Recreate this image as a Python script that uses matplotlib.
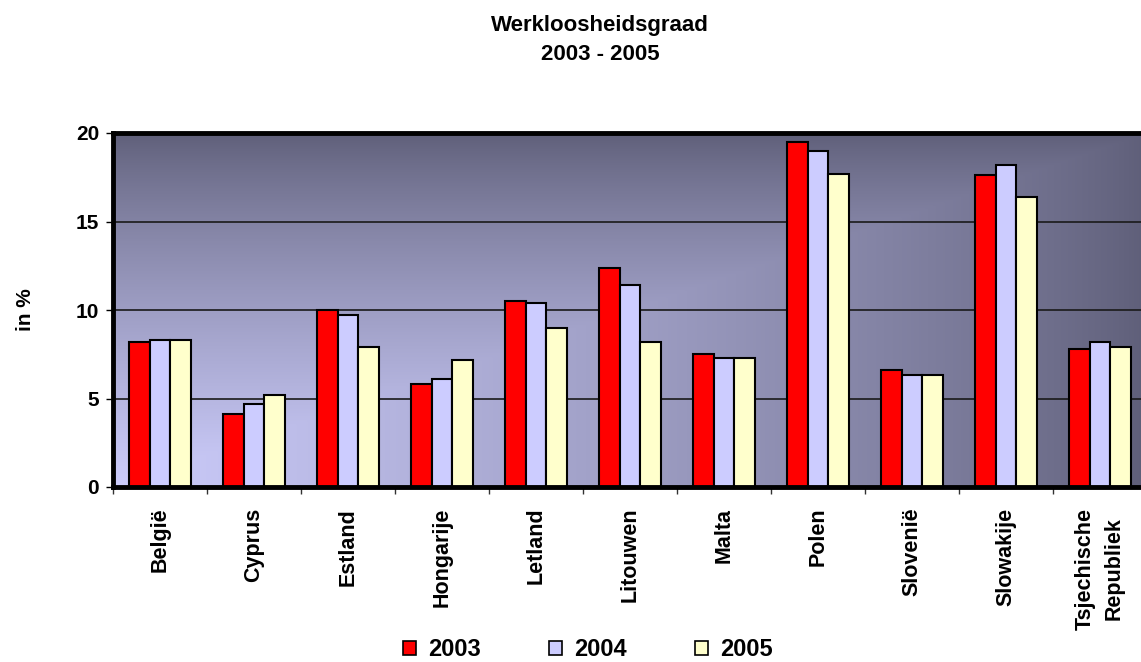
import numpy as np
import matplotlib.pyplot as plt
from matplotlib.patches import Patch

plt.rcParams['font.family'] = ['Liberation Sans', 'DejaVu Sans']
plt.rcParams['font.weight'] = 'bold'

landen = ['België', 'Cyprus', 'Estland', 'Hongarije', 'Letland', 'Litouwen',
          'Malta', 'Polen', 'Slovenië', 'Slowakije', 'Tsjechische\nRepubliek']
jaren = ['2003', '2004', '2005']
w2003 = [8.2, 4.1, 10.0, 5.8, 10.5, 12.4, 7.5, 19.5, 6.6, 17.6, 7.8]
w2004 = [8.3, 4.7, 9.7, 6.1, 10.4, 11.4, 7.3, 19.0, 6.3, 18.2, 8.2]
w2005 = [8.3, 5.2, 7.9, 7.2, 9.0, 8.2, 7.3, 17.7, 6.3, 16.4, 7.9]
kleuren = ['#ff0000', '#ccccff', '#ffffcc']

fig = plt.figure(figsize=(11.41, 6.62), dpi=100)
ax = fig.add_axes([113 / 1141, 1 - 487 / 662, 1034 / 1141, 354 / 662])

# achtergrond: verloop vanuit de hoek linksonder
u, v = np.meshgrid(np.linspace(0, 1, 400), np.linspace(1, 0, 200))
f = (1 - np.maximum(u, v)) ** 0.8
licht = np.array([205, 205, 252]) / 255
donker = np.array([94, 94, 120]) / 255
img = donker + (licht - donker) * f[..., None]
ax.imshow(img, extent=[0, 1, 0, 1], transform=ax.transAxes, aspect='auto', zorder=0)

x = np.arange(len(landen))
b = 0.22
for i, (waarden, kleur) in enumerate(zip([w2003, w2004, w2005], kleuren)):
    ax.bar(x + (i - 1) * b, waarden, b, color=kleur, edgecolor='black',
           linewidth=1.5, zorder=3)

ax.set_xlim(-0.5, len(landen) - 0.5)
ax.set_ylim(0, 20)
ax.set_yticks([0, 5, 10, 15, 20])
ax.yaxis.grid(True, color='#1a1a1a', linewidth=1.2, zorder=1)
ax.set_axisbelow(False)
for l in ax.get_ygridlines():
    l.set_zorder(1)

ax.set_xticks(x)
ax.set_xticklabels(landen, rotation=90, fontsize=15.5, fontweight='bold',
                   va='top', ha='center', linespacing=1.5)
ax.set_xticks(np.arange(len(landen) + 1) - 0.5, minor=True)
ax.tick_params(axis='x', which='major', length=0, pad=15)
ax.tick_params(axis='x', which='minor', length=5, width=1, color='#333333')
ax.tick_params(axis='y', length=5, width=1, labelsize=15, pad=5)
for t in ax.get_yticklabels():
    t.set_fontweight('bold')

for s in ax.spines.values():
    s.set_linewidth(3.5)
    s.set_color('black')
    s.set_zorder(5)

ax.set_ylabel('in %', fontsize=15, fontweight='bold', labelpad=29)

fig.text(0.526, 1 - 26 / 662, 'Werkloosheidsgraad', ha='center', va='center',
         fontsize=16, fontweight='bold')
fig.text(0.526, 1 - 54 / 662, '2003 - 2005', ha='center', va='center',
         fontsize=16, fontweight='bold')

handles = [Patch(facecolor=k, edgecolor='black', linewidth=1.2) for k in kleuren]
leg = fig.legend(handles, jaren, loc='center', bbox_to_anchor=(0.515, 1 - 650 / 662),
                 ncol=3, frameon=False, prop={'size': 17, 'weight': 'bold'},
                 handlelength=0.55, handleheight=0.55, handletextpad=0.5,
                 columnspacing=2.9)

fig.savefig('out.png', dpi=100)
